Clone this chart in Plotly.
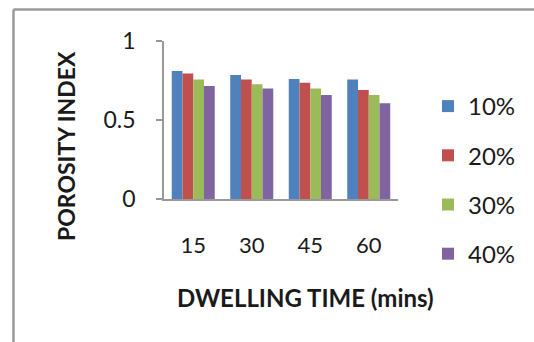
import plotly.graph_objects as go

categories = ["15", "30", "45", "60"]
series_names = ["10%", "20%", "30%", "40%"]
v10 = [0.81, 0.785, 0.76, 0.757]
v20 = [0.795, 0.757, 0.736, 0.69]
v30 = [0.757, 0.726, 0.70, 0.658]
v40 = [0.715, 0.70, 0.658, 0.606]
colors = ["#4F81BD", "#C0504D", "#9BBB59", "#8064A2"]

FONT = "Lato"
fig = go.Figure()
for i, (name, vals) in enumerate(zip(series_names, [v10, v20, v30, v40])):
    fig.add_trace(go.Bar(x=categories, y=vals, name=name, marker_color=colors[i],
                         marker_line_width=0, legendgroup=name))

W, H = 534, 342
L, R, T, B = 164, 136, 41, 143
pw, ph = W - L - R, H - T - B
def px(x): return (x - L) / pw
def py(y): return (H - B - y) / ph

fig.update_layout(
    width=W, height=H,
    margin=dict(l=L, r=R, t=T, b=B, pad=0),
    paper_bgcolor="white", plot_bgcolor="white",
    barmode="group", bargap=0.265, bargroupgap=0,
    font=dict(family=FONT, color="#1a1a1a"),
    showlegend=True,
    legend=dict(x=px(428), xanchor="left", y=py(180), yanchor="middle",
                font=dict(size=24, family=FONT), tracegroupgap=15,
                maxheight=330,
                bgcolor="rgba(0,0,0,0)", itemclick=False),
    xaxis=dict(showline=True, linecolor="#999999", linewidth=1.5, ticks="",
               tickfont=dict(size=22, family=FONT), ticklabelstandoff=26,
               showgrid=False),
    yaxis=dict(range=[0, 1], tickvals=[0, 0.5, 1], ticktext=["0", "0.5", "1"],
               showline=True, linecolor="#999999", linewidth=1.5,
               ticks="outside", ticklen=6, tickcolor="#999999", tickwidth=1.5,
               tickfont=dict(size=23, family=FONT), ticklabelstandoff=16,
               showgrid=False, zeroline=False),
    shapes=[
        dict(type="line", xref="paper", yref="paper", x0=px(13.5), x1=px(13.5),
             y0=py(9.5), y1=py(342), line=dict(color="#9a9a9a", width=2.5)),
        dict(type="line", xref="paper", yref="paper", x0=px(13.5), x1=px(534),
             y0=py(9.5), y1=py(9.5), line=dict(color="#9a9a9a", width=2.5)),
    ],
    annotations=[
        dict(text="<b>POROSITY INDEX</b>", xref="paper", yref="paper",
             x=px(66), y=py(146), textangle=-90, showarrow=False,
             font=dict(size=23, family=FONT), xanchor="center", yanchor="middle"),
        dict(text="<b>DWELLING TIME (mins)</b>", xref="paper", yref="paper",
             x=px(305), y=py(297), showarrow=False,
             font=dict(size=24, family=FONT), xanchor="center", yanchor="middle"),
    ],
)

fig.write_html("out.html")
